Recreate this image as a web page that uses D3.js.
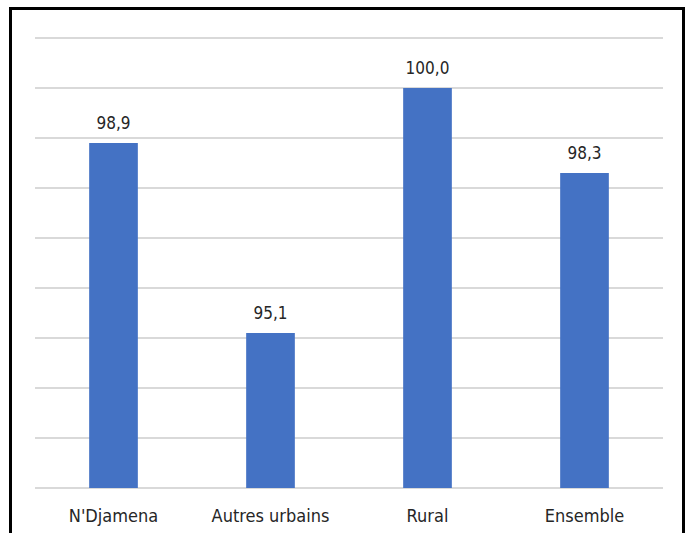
<!DOCTYPE html>
<html>
<head>
<meta charset="utf-8">
<script src="https://cdn.jsdelivr.net/npm/d3@7/dist/d3.min.js"></script>
<style>
  html, body { margin: 0; padding: 0; background: #fff; }
  svg { display: block; }
</style>
</head>
<body>
<script>
// Categories and values
const categories = ["N'Djamena", "Autres urbains", "Rural", "Ensemble"];
const values = [98.9, 95.1, 100.0, 98.3];
const valueLabels = ["98,9", "95,1", "100,0", "98,3"];
const gridTicks = [92, 93, 94, 95, 96, 97, 98, 99, 100, 101];

const W = 689, H = 533;
const margin = { left: 35, right: 26, top: 38, bottom: 45 };
const FONT = "'DejaVu Sans Condensed', 'Liberation Sans', Arial, sans-serif";

const svg = d3.select("body").append("svg")
  .attr("width", W).attr("height", H);

const x = d3.scaleBand()
  .domain(categories)
  .range([margin.left, W - margin.right])
  .paddingInner(0.69)
  .paddingOuter(0.345);

const y = d3.scaleLinear()
  .domain([92, 101])
  .range([H - margin.bottom, margin.top]);

// Horizontal gridlines
svg.append("g")
  .selectAll("line")
  .data(gridTicks)
  .join("line")
  .attr("x1", margin.left)
  .attr("x2", W - margin.right)
  .attr("y1", d => y(d))
  .attr("y2", d => y(d))
  .attr("stroke", "#d9d9d9")
  .attr("stroke-width", 2);

// Bars
svg.append("g")
  .selectAll("rect")
  .data(values)
  .join("rect")
  .attr("x", (d, i) => x(categories[i]))
  .attr("y", d => y(d))
  .attr("width", x.bandwidth())
  .attr("height", d => y(92) - y(d))
  .attr("fill", "#4472c4");

// Value labels with white backing
const lab = svg.append("g").selectAll("g")
  .data(values)
  .join("g")
  .attr("transform", (d, i) => `translate(${x(categories[i]) + x.bandwidth() / 2},${y(d) - 14})`);

lab.append("rect")
  .attr("x", -24).attr("y", -18)
  .attr("width", 48).attr("height", 23)
  .attr("fill", "#fff");

lab.append("text")
  .attr("text-anchor", "middle")
  .attr("font-family", FONT)
  .attr("font-size", 17)
  .attr("fill", "#262626")
  .text((d, i) => valueLabels[i]);

// Category axis labels
svg.append("g")
  .selectAll("text")
  .data(categories)
  .join("text")
  .attr("x", d => x(d) + x.bandwidth() / 2)
  .attr("y", H - margin.bottom + 34)
  .attr("text-anchor", "middle")
  .attr("font-family", FONT)
  .attr("font-size", 18)
  .attr("fill", "#262626")
  .text(d => d);

// Chart frame
svg.append("rect")
  .attr("x", 10.5).attr("y", 8.5)
  .attr("width", 673).attr("height", 560)
  .attr("fill", "none")
  .attr("stroke", "#000")
  .attr("stroke-width", 3);
</script>
</body>
</html>
